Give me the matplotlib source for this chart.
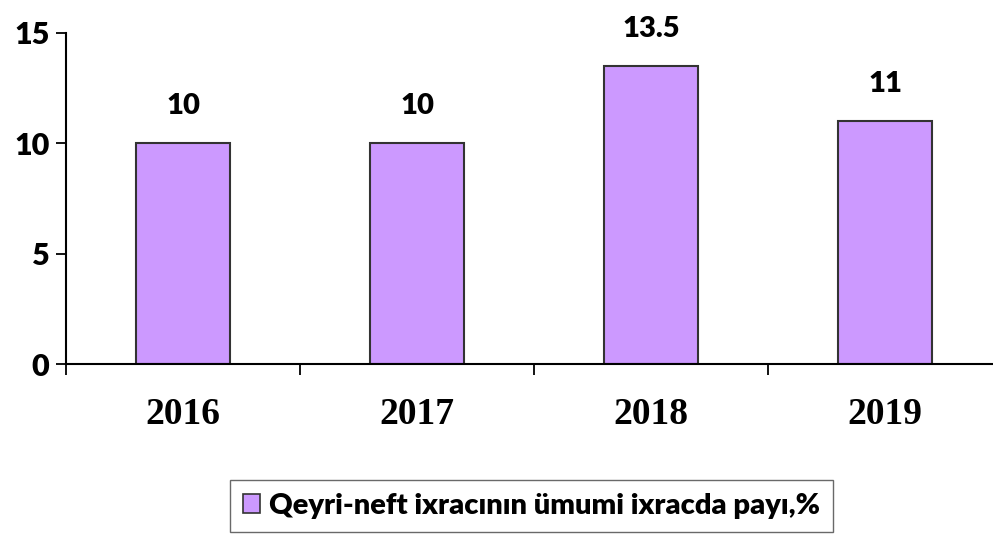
import matplotlib
matplotlib.use("Agg")
import matplotlib.pyplot as plt
from matplotlib.patches import Patch

# 数据
years = ["2016", "2017", "2018", "2019"]
shares = [10, 10, 13.5, 11]
value_labels = ["10", "10", "13.5", "11"]
legend_label = "Qeyri-neft ixracının ümumi ixracda payı,%"

sans = ["Lato", "DejaVu Sans"]
plt.rcParams["font.family"] = sans

fig = plt.figure(figsize=(9.93, 5.47), dpi=100)
ax = fig.add_axes([66 / 993, 183 / 547, 936 / 993, 331 / 547])

x = list(range(len(years)))
ax.bar(x, shares, width=0.4, color="#cc99ff", edgecolor="#333333",
       linewidth=1.5, zorder=2)

# 柱顶数值
for xi, v, lab in zip(x, shares, value_labels):
    ax.annotate(lab, (xi, v), xytext=(0, 27), textcoords="offset points",
                ha="center", va="center", fontsize=21, fontweight="heavy",
                family=sans)

ax.set_xlim(-0.5, 3.5)
ax.set_ylim(0, 15)
ax.set_yticks([0, 5, 10, 15])
ax.set_yticklabels(["0", "5", "10", "15"], fontsize=22, fontweight="heavy",
                   family=sans)

ax.set_xticks(x)
ax.set_xticklabels(years, fontsize=27, fontweight="bold",
                   family="Liberation Serif")
ax.set_xticks([-0.5, 0.5, 1.5, 2.5], minor=True)
ax.tick_params(axis="x", which="major", length=0, pad=24)
ax.tick_params(axis="x", which="minor", length=8, width=1.3, direction="out")
ax.tick_params(axis="y", length=7, width=1.3, direction="out", pad=5)

for side in ["top", "right"]:
    ax.spines[side].set_visible(False)
ax.spines["left"].set_linewidth(1.5)
ax.spines["bottom"].set_linewidth(1.5)

# 图例
handle = Patch(facecolor="#cc99ff", edgecolor="#333333", linewidth=1.2)
fig.legend([handle], [legend_label], loc="center",
           bbox_to_anchor=(0.535, 0.075), frameon=True, fancybox=False,
           edgecolor="#444444", prop={"family": sans, "weight": "heavy",
                                       "size": 21},
           handlelength=0.6, handleheight=0.6, handletextpad=0.3,
           borderpad=0.45, borderaxespad=0)

fig.savefig("out.png", dpi=100)
